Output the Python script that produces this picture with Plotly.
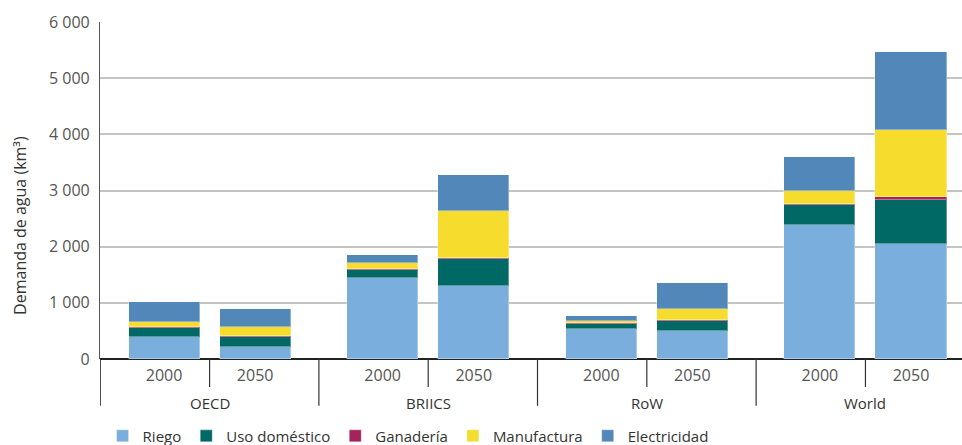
import plotly.graph_objects as go

regions = ["OECD", "BRIICS", "RoW", "World"]
years = ["2000", "2050"]
series_names = ["Riego", "Uso doméstico", "Ganadería", "Manufactura", "Electricidad"]
colors = ["#79aedd", "#006865", "#a3245a", "#f6dc2c", "#5287ba"]

# order: OECD 2000, OECD 2050, BRIICS 2000, BRIICS 2050, RoW 2000, RoW 2050, World 2000, World 2050
riego = [400, 220, 1450, 1305, 540, 498, 2380, 2047]
uso_domestico = [160, 178, 137, 470, 89, 178, 356, 789]
ganaderia = [10, 10, 10, 18, 8, 23, 23, 48]
manufactura = [95, 155, 120, 843, 32, 190, 237, 1199]
electricidad = [345, 325, 130, 641, 96, 463, 593, 1389]
values = [riego, uso_domestico, ganaderia, manufactura, electricidad]

y_ticks = [0, 1000, 2000, 3000, 4000, 5000, 6000]
y_ticktext = ["0", "1 000", "2 000", "3 000", "4 000", "5 000", "6 000"]

# positions: within-group spacing 1, group spacing 2.4
group_step = 2.4
xpos = [g * group_step + j for g in range(len(regions)) for j in range(len(years))]
year_labels = [y for _ in regions for y in years]

FONT = "Open Sans, Noto Sans, sans-serif"

fig = go.Figure()
for name, col, vals in zip(series_names, colors, values):
    fig.add_trace(go.Bar(
        x=xpos, y=vals, name=name, width=0.78,
        marker=dict(color=col, line=dict(color="rgba(255,255,255,0.35)", width=1)),
    ))

shapes = []
# year dividers
for g in range(len(regions)):
    xm = g * group_step + 0.5
    shapes.append(dict(type="line", xref="x", yref="paper", x0=xm, x1=xm, y0=0, y1=-0.083,
                       line=dict(color="#333333", width=1.2)))
# group dividers
for g in range(len(regions) + 1):
    xd = g * group_step - 0.7
    shapes.append(dict(type="line", xref="x", yref="paper", x0=xd, x1=xd, y0=0, y1=-0.139,
                       line=dict(color="#333333", width=1.2)))

annotations = []
for g, r in enumerate(regions):
    annotations.append(dict(x=g * group_step + 0.5, y=-0.13, xref="x", yref="paper", text=r,
                            showarrow=False, xanchor="center", yanchor="middle",
                            font=dict(size=15, color="#333333", family=FONT)))
annotations.append(dict(x=-0.0928, y=0.395, xref="paper", yref="paper",
                        text="Demanda de agua (km³)", textangle=-90, showarrow=False,
                        xanchor="center", yanchor="middle",
                        font=dict(size=16, color="#333333", family=FONT)))

fig.update_layout(
    width=962, height=445,
    margin=dict(l=100, r=0, t=22, b=86),
    barmode="stack",
    plot_bgcolor="white", paper_bgcolor="white",
    font=dict(family=FONT, color="#444444"),
    bargap=0,
    showlegend=True,
    legend=dict(orientation="h", x=0.003, xanchor="left", xref="paper",
                y=0.02, yanchor="middle", yref="container",
                font=dict(size=15, color="#333333", family=FONT), traceorder="normal",
                itemclick=False),
    xaxis=dict(range=[-0.703, 8.76], tickvals=xpos, ticktext=year_labels,
               showgrid=False, zeroline=False, showline=False, ticks="",
               tickfont=dict(size=16, color="#555555"), ticklabelstandoff=5),
    yaxis=dict(range=[0, 6000], tickvals=y_ticks, ticktext=y_ticktext,
               showgrid=True, gridcolor="#c4c4c4", gridwidth=1.5,
               zeroline=True, zerolinecolor="#222222", zerolinewidth=1.5,
               showline=True, linecolor="#555555", linewidth=1.2,
               ticks="", tickfont=dict(size=16, color="#555555"), ticklabelstandoff=6),
    shapes=shapes,
    annotations=annotations,
)

fig.write_html("out.html", config={"displayModeBar": False},
               post_script="document.body.style.margin='0';document.body.style.overflow='hidden';")
